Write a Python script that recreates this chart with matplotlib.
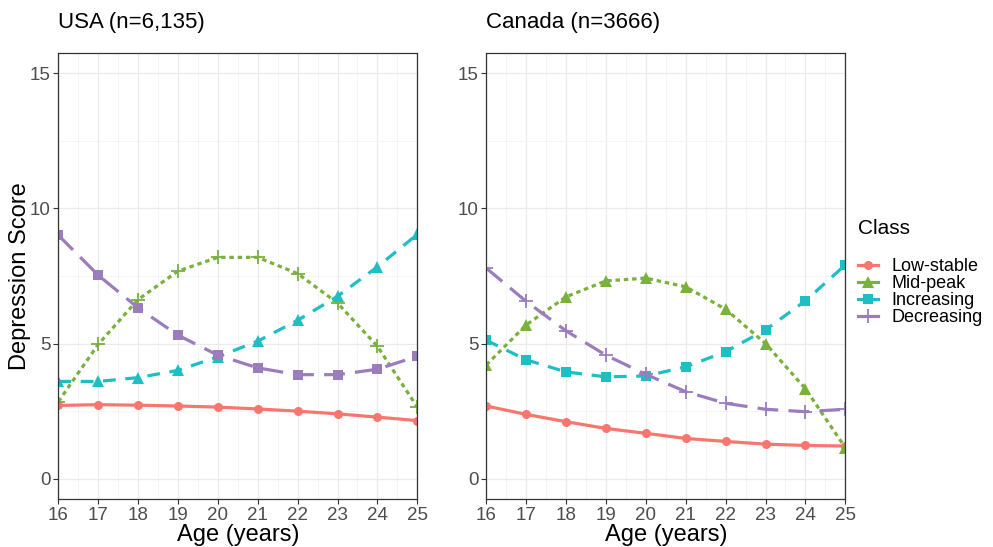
import numpy as np
import matplotlib.pyplot as plt
from matplotlib.lines import Line2D
from matplotlib.ticker import MultipleLocator

plt.rcParams['font.family'] = ['Liberation Sans', 'DejaVu Sans']

# data
ages = [16, 17, 18, 19, 20, 21, 22, 23, 24, 25]
classes = ["Low-stable", "Mid-peak", "Increasing", "Decreasing"]

usa_low = [2.71, 2.74, 2.72, 2.69, 2.65, 2.58, 2.50, 2.40, 2.28, 2.15]
usa_mid = [2.85, 4.97, 6.63, 7.68, 8.19, 8.19, 7.59, 6.50, 4.90, 2.65]
usa_inc = [3.60, 3.60, 3.74, 4.01, 4.51, 5.09, 5.86, 6.75, 7.84, 9.04]
usa_dec = [9.01, 7.53, 6.32, 5.31, 4.57, 4.10, 3.85, 3.85, 4.05, 4.53]

can_low = [2.69, 2.38, 2.11, 1.86, 1.68, 1.49, 1.38, 1.28, 1.23, 1.21]
can_mid = [4.21, 5.69, 6.73, 7.32, 7.42, 7.10, 6.27, 5.00, 3.33, 1.15]
can_inc = [5.12, 4.40, 3.95, 3.77, 3.80, 4.14, 4.70, 5.51, 6.58, 7.91]
can_dec = [7.79, 6.56, 5.47, 4.57, 3.86, 3.22, 2.79, 2.57, 2.48, 2.57]

colors = ['#F8766D', '#7AB03C', '#1FBEC4', '#9B7DBE']
dashes = [None, (1.4, 1.2), (4, 3), (6.5, 3.2)]
usa_markers = ['o', '+', '^', 's']
can_markers = ['o', '^', 's', '+']
msizes = {'o': 6.5, '^': 8, 's': 7.5, '+': 10}

fig = plt.figure(figsize=(9.93, 5.47), dpi=100)
ax1 = fig.add_axes([58.3/993, 48/547, 359/993, 446/547])
ax2 = fig.add_axes([486.3/993, 48/547, 359/993, 446/547])


def draw(ax, series, markers, title):
    for vals, c, d, m in zip(series, colors, dashes, markers):
        kw = dict(color=c, lw=2.3, marker=m, markersize=msizes[m],
                  markeredgewidth=1.3 if m == '+' else 0)
        if d is not None:
            kw['dashes'] = d
        ax.plot(ages, vals, **kw)
    ax.set_xlim(16, 25)
    ax.set_ylim(-0.75, 15.75)
    ax.set_xticks(ages)
    ax.set_yticks([0, 5, 10, 15])
    ax.xaxis.set_minor_locator(MultipleLocator(0.5))
    ax.yaxis.set_minor_locator(MultipleLocator(2.5))
    ax.grid(which='major', color='#EBEBEB', lw=0.9)
    ax.grid(which='minor', color='#F2F2F2', lw=0.5)
    ax.set_axisbelow(True)
    ax.tick_params(which='major', length=3.5, width=0.8, color='#333333',
                   labelsize=13.5, labelcolor='#4D4D4D', pad=2)
    ax.tick_params(which='minor', length=0)
    for s in ax.spines.values():
        s.set_color('#333333')
        s.set_linewidth(0.9)
    ax.set_title(title, loc='left', fontsize=16, pad=18)
    ax.set_xlabel("Age (years)", fontsize=17, labelpad=0)


draw(ax1, [usa_low, usa_mid, usa_inc, usa_dec], usa_markers, "USA (n=6,135)")
draw(ax2, [can_low, can_mid, can_inc, can_dec], can_markers, "Canada (n=3666)")

fig.text(20/993, 1 - 276/547, "Depression Score", rotation=90,
         fontsize=17, ha='center', va='center')

handles = []
for c, m in zip(colors, can_markers):
    handles.append(Line2D([0], [0], color=c, lw=2.3, marker=m,
                          markersize=msizes[m],
                          markeredgewidth=1.3 if m == '+' else 0))
fig.text(858/993, 1 - 228/547, "Class", fontsize=15, ha='left', va='center')
fig.legend(handles, classes, loc='upper left',
           bbox_to_anchor=(858/993, 1 - 258/547), frameon=False,
           fontsize=13, handlelength=1.1, handletextpad=0.75,
           labelspacing=0.0, borderaxespad=0, borderpad=0)

fig.savefig("out.png", dpi=100)
